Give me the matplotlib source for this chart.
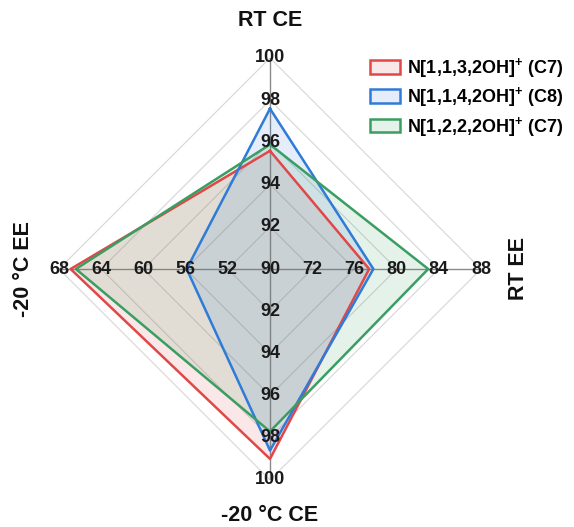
import numpy as np
import matplotlib
matplotlib.use("Agg")
import matplotlib.pyplot as plt
from matplotlib.patches import Patch

plt.rcParams["font.family"] = ["Liberation Sans", "DejaVu Sans"]
plt.rcParams["mathtext.fontset"] = "custom"
plt.rcParams["mathtext.bf"] = "Liberation Sans:bold"
plt.rcParams["mathtext.rm"] = "Liberation Sans"

# axes, clockwise from the top
categories = ["RT CE", "RT EE", "-20 °C CE", "-20 °C EE"]
axis_min = [90, 68, 90, 48]
axis_max = [100, 88, 100, 68]
axis_ticks = [
    [92, 94, 96, 98, 100],
    [72, 76, 80, 84, 88],
    [92, 94, 96, 98, 100],
    [52, 56, 60, 64, 68],
]
center_label = "90"

series_names = [
    r"N[1,1,3,2OH]$^{\mathbf{+}}$ (C7)",
    r"N[1,1,4,2OH]$^{\mathbf{+}}$ (C8)",
    r"N[1,2,2,2OH]$^{\mathbf{+}}$ (C7)",
]
red_vals = [95.6, 77.4, 99.0, 66.9]
blue_vals = [97.6, 77.8, 98.6, 55.9]
green_vals = [95.9, 83.0, 97.7, 66.4]
series_vals = [red_vals, blue_vals, green_vals]
colors = ["#e04848", "#2f7bd8", "#3a9e63"]

N_RINGS = 5


def to_r(vals):
    return [(v - lo) / (hi - lo) * N_RINGS for v, lo, hi in zip(vals, axis_min, axis_max)]


W, H = 574, 527
fig = plt.figure(figsize=(W / 100, H / 100), dpi=100)
cx, cy, rad = 270, 269, 211
ax = fig.add_axes([(cx - rad) / W, (H - cy - rad) / H, 2 * rad / W, 2 * rad / H],
                  projection="polar")
ax.set_theta_zero_location("N")
ax.set_theta_direction(-1)
ax.set_ylim(0, N_RINGS)
ax.grid(False)
ax.spines["polar"].set_visible(False)
ax.set_xticks([])
ax.set_yticks([])
ax.patch.set_alpha(0)

angles = np.linspace(0, 2 * np.pi, len(categories), endpoint=False).tolist()
closed = angles + angles[:1]

# diamond rings and spokes
for r in range(1, N_RINGS + 1):
    ax.plot(closed, [r] * len(closed), color="#d6d6d6", lw=0.8, zorder=1)
for a in angles:
    ax.plot([a, a], [0, N_RINGS], color="#8a8a8a", lw=1.0, zorder=1)

for vals, col in zip(series_vals, colors):
    r = to_r(vals)
    r = r + r[:1]
    ax.fill(closed, r, color=col, alpha=0.13, lw=0, zorder=2)
    ax.plot(closed, r, color=col, lw=1.8, zorder=3)

tick_kw = dict(ha="center", va="center", fontsize=13, fontweight="bold",
               color="#1a1a1a", zorder=10)
ax.text(0, 0, center_label, **tick_kw)
for a, ticks, lo, hi in zip(angles, axis_ticks, axis_min, axis_max):
    for t in ticks:
        ax.text(a, (t - lo) / (hi - lo) * N_RINGS, str(t), **tick_kw)

title_kw = dict(ha="center", va="center", fontsize=15.5, fontweight="bold",
                color="#111111", clip_on=False)
ax.text(angles[0], 5.9, categories[0], **title_kw)
ax.text(angles[1], 5.88, categories[1], rotation=90, **title_kw)
ax.text(angles[2], 5.83, categories[2], **title_kw)
ax.text(angles[3], 5.84, categories[3], rotation=90, **title_kw)

handles = [Patch(facecolor=matplotlib.colors.to_rgba(c, 0.13), edgecolor=c, lw=1.8)
           for c in colors]
fig.legend(handles, series_names, loc="upper left",
           bbox_to_anchor=(370 / W, 1 - 56 / H), frameon=False,
           prop=dict(size=13, weight="bold"), handlelength=1.65, handleheight=0.8,
           handletextpad=0.4, labelspacing=0.3, borderaxespad=0, borderpad=0)

fig.savefig("out.png", dpi=100)
